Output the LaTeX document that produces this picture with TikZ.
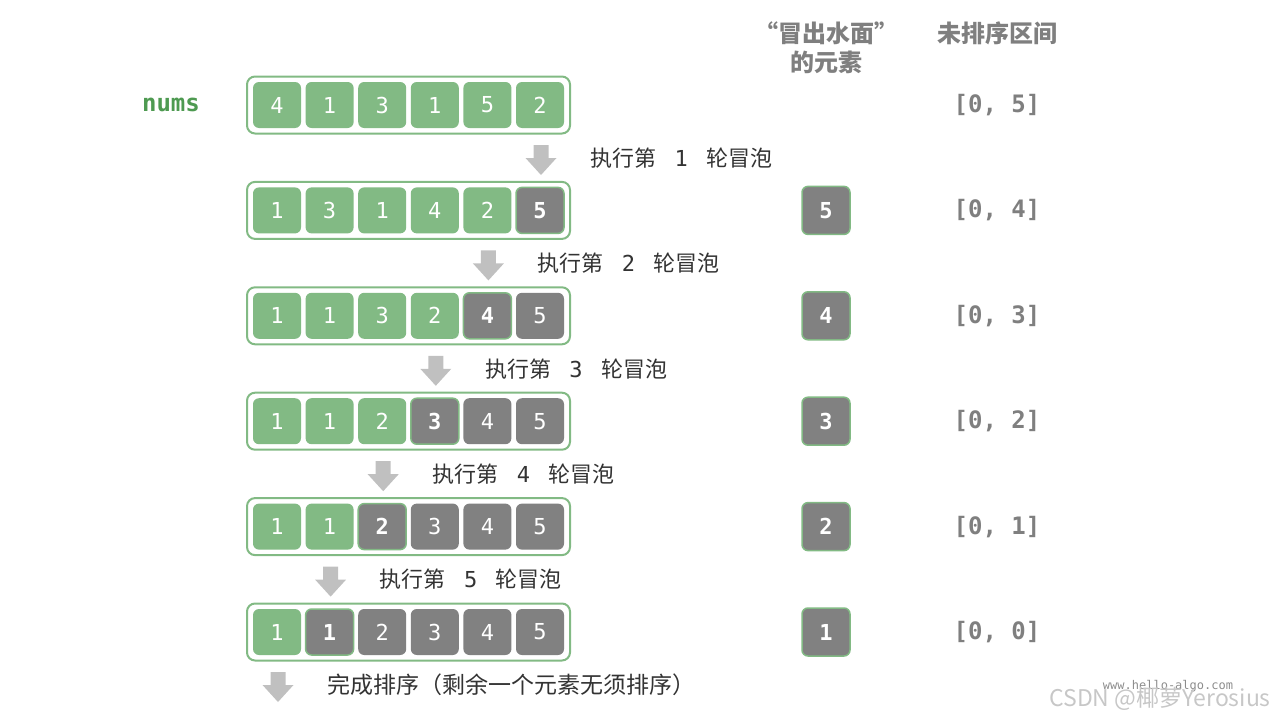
\documentclass[tikz,border=0pt]{standalone}
\usepackage{fontspec}
\newfontfamily\cjk{Noto Sans CJK SC}
\newfontfamily\mono{DejaVu Sans Mono}
\definecolor{cgreen}{HTML}{82BA84}
\definecolor{cgrey}{HTML}{818181}
\definecolor{cnums}{HTML}{4E9A51}
\definecolor{ctext}{HTML}{333333}
\definecolor{chead}{HTML}{7F7F7F}
\definecolor{carrow}{HTML}{C0C0C0}
\tikzset{
  outerbox/.style={draw=cgreen, line width=2pt, fill=white, rounded corners=8pt, minimum width=323pt, minimum height=57pt, inner sep=0pt},
  cellbase/.style={rounded corners=6pt, minimum width=48pt, minimum height=46pt, inner sep=0pt, text=white, font=\mono\fontsize{22}{22}\selectfont},
  cellg/.style={cellbase, fill=cgreen},
  cellk/.style={cellbase, fill=cgrey},
  cellh/.style={cellbase, fill=cgrey, draw=cgreen, line width=1.5pt, font=\mono\bfseries\fontsize{22}{22}\selectfont},
  bubbox/.style={cellbase, fill=cgrey, draw=cgreen, line width=1.5pt, minimum height=48pt, font=\mono\bfseries\fontsize{22}{22}\selectfont},
  ivtext/.style={text=chead, font=\mono\bfseries\fontsize{24}{24}\selectfont},
  headtext/.style={text=chead, font=\cjk\bfseries\fontsize{24}{28}\selectfont, align=center},
  steptext/.style={text=ctext, anchor=west, inner sep=0pt, font=\cjk\fontsize{22}{22}\selectfont},
  arrowfill/.style={fill=carrow},
}
\begin{document}
\begin{tikzpicture}[x=1pt,y=-1pt]
\useasboundingbox (0,0) rectangle (1280,720);
% headers
\node[headtext] (h1a) at (826,33) {“冒出水面”};
\node[headtext] (h1b) at (826,62) {的元素};
\node[headtext] (h2) at (997,33) {未排序区间};
\node[text=cnums, font=\mono\bfseries\fontsize{24}{24}\selectfont] (nums) at (171,105) {nums};
\foreach \r/\vals in {1/{4,1,3,1,5,2}, 2/{1,3,1,4,2,5}, 3/{1,1,3,2,4,5}, 4/{1,1,2,3,4,5}, 5/{1,1,2,3,4,5}, 6/{1,1,2,3,4,5}} {
  \pgfmathsetmacro\yy{105+105.4*(\r-1)}
  \pgfmathtruncatemacro\hh{\r==1 ? 7 : 8-\r}
  \node[outerbox] (box\r) at (408.5,\yy) {};
  \foreach \v [count=\c] in \vals {
    \pgfmathsetmacro\xx{277+52.6*(\c-1)}
    \ifnum\c<\hh
      \node[cellg] (c\r-\c) at (\xx,\yy) {\v};
    \else\ifnum\c=\hh
      \node[cellh] (c\r-\c) at (\xx,\yy) {\v};
    \else
      \node[cellk] (c\r-\c) at (\xx,\yy) {\v};
    \fi\fi
  }
  \pgfmathtruncatemacro\iv{6-\r}
  \node[ivtext] (iv\r) at (997,\yy) {[0, \iv]};
  \ifnum\r>1
    \pgfmathtruncatemacro\bv{7-\r}
    \node[bubbox] (bub\r) at (826,\yy) {\bv};
  \fi
  % arrow below the row
  \pgfmathsetmacro\ax{541-52.6*(\r-1)}
  \fill[arrowfill, shift={(\ax,\yy)}] (-7.5,40) -- (7.5,40) -- (7.5,53) -- (15.5,53) -- (0,70) -- (-15.5,53) -- (-7.5,53) -- cycle;
  \ifnum\r<6
    \node[steptext] (lab\r) at (\ax+49,\yy+53) {执行第\makebox[50pt]{\mono\fontsize{22}{22}\selectfont\r}轮冒泡};
  \else
    \node[steptext, font=\cjk\fontsize{23}{23}\selectfont] (lab\r) at (\ax+49,\yy+53) {完成排序（剩余一个元素无须排序）};
  \fi
}
% watermark
\node[text=black!45, font=\mono\fontsize{12}{12}\selectfont] (wm1) at (1168,686) {www.hello-algo.com};
\node[text=black!22, font=\cjk\fontsize{23}{23}\selectfont] (wm2) at (1160,699) {CSDN @椰萝Yerosius};
\end{tikzpicture}
\end{document}
